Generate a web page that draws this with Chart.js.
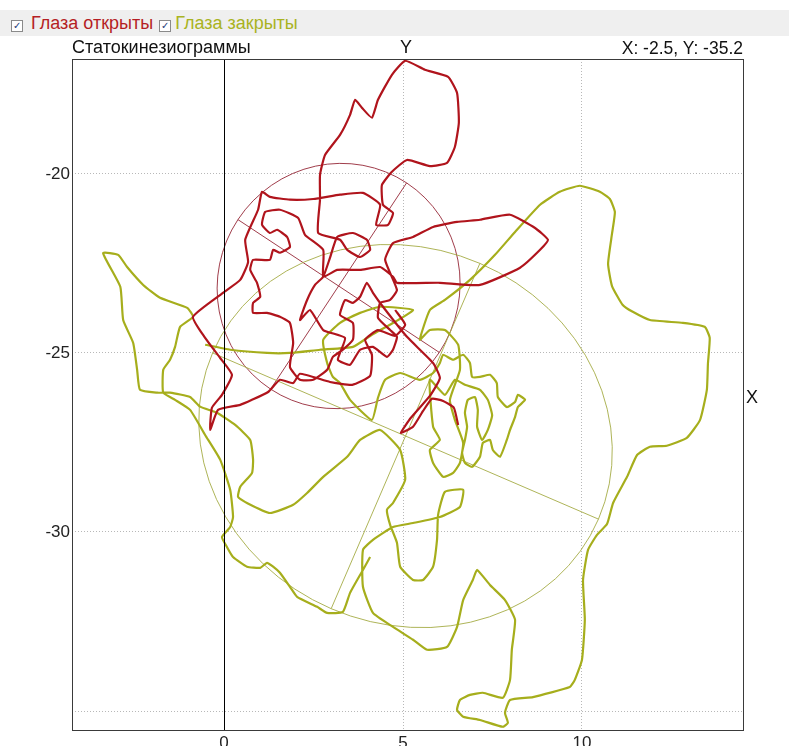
<!DOCTYPE html>
<html>
<head>
<meta charset="utf-8">
<script src="https://cdn.jsdelivr.net/npm/chart.js@4/dist/chart.umd.min.js"></script>
<style>
  body { margin: 0; background: #fff; font-family: "Liberation Sans", Arial, sans-serif; }
  #wrap { position: relative; width: 789px; height: 746px; overflow: hidden; }
  #bar { position: absolute; left: 0; top: 10px; width: 789px; height: 26px; background: #efefef; font-size: 18px; line-height: 26px; }
  .cb { display: inline-block; width: 10px; height: 10px; border: 1px solid #8a8a8a; background: #fff; vertical-align: 0px; margin: 0 8px 0 11px; font-size: 10px; line-height: 10px; text-align: center; color: #1f3b7a; }
  #open { color: #b51e24; }
  #closed { color: #a9b322; }
  .lbl { position: absolute; font-size: 18px; color: #111; white-space: nowrap; }
  canvas { position: absolute; left: 0; top: 0; }
</style>
</head>
<body>
<div id="wrap">
  <canvas id="stab" width="789" height="746"></canvas>
  <div id="bar"><span class="cb">✓</span><span id="open">Глаза открыты</span><span class="cb" style="margin:0 4px 0 6px">✓</span><span id="closed">Глаза закрыты</span></div>
  <div class="lbl" style="left:72px; top:37px;">Статокинезиограммы</div>
  <div class="lbl" style="left:400px; top:37px;">Y</div>
  <div class="lbl" style="right:46px; top:38px; font-size:17.5px;">X: -2.5, Y: -35.2</div>
  <div class="lbl" style="left:746px; top:387px;">X</div>
</div>
<script>
// axis ranges and ticks
var xRange = [-4.25, 14.5];
var yRange = [-35.53, -16.79];
var xTicks = [0, 5, 10];
var yTicks = [-35, -30, -25, -20];
var yTickLabels = ['', '-30', '-25', '-20'];

// centre of pressure, eyes open
var eyesOpen = [
  [6.54,-27.01],[6.42,-26.53],[6.12,-26.34],[5.81,-26.28],[5.56,-26.62],[5.28,-27.06],[4.94,-27.23],
  [5.22,-26.81],[5.75,-26.20],[6.03,-25.70],[5.84,-25.28],[5.11,-24.55],[4.44,-23.71],[4.16,-23.32],
  [3.99,-23.04],[3.80,-23.43],[3.60,-23.60],[3.38,-23.52],[3.24,-23.94],[3.60,-24.16],[3.60,-24.63],
  [3.32,-24.91],[3.04,-25.11],[2.88,-25.47],[2.49,-25.75],[2.12,-25.75],[1.84,-25.39],[1.93,-24.72],
  [1.84,-24.16],[1.56,-23.99],[1.20,-23.88],[0.81,-23.88],[0.81,-23.60],[1.01,-23.43],[0.92,-23.04],
  [0.73,-22.68],[0.81,-22.40],[1.28,-22.40],[1.37,-22.12],[1.56,-22.20],[1.84,-22.04],[1.76,-21.76],
  [1.48,-21.56],[1.28,-21.65],[1.06,-21.42],[1.15,-21.06],[1.56,-21.00],[2.07,-21.23],[2.26,-21.70],
  [2.77,-22.12],[2.77,-22.87],[3.16,-22.68],[3.80,-22.68],[4.36,-22.60],[4.72,-22.87],[4.83,-23.04],
  [6.03,-23.04],[7.15,-23.10],[8.27,-22.62],[8.83,-22.12],[9.05,-21.84],[8.69,-21.51],[7.99,-21.14],
  [7.15,-21.28],[6.51,-21.34],[5.84,-21.48],[5.28,-21.76],[4.72,-21.93],[4.50,-22.40],[4.83,-23.24],
  [4.64,-23.52],[4.36,-23.60],[4.30,-24.02],[4.64,-24.36],[4.83,-24.55],[4.72,-24.91],[4.55,-25.11],
  [4.16,-24.83],[3.80,-24.91],[3.52,-25.33],[3.18,-25.19],[3.38,-24.58],[2.77,-24.36],[2.40,-23.80],
  [2.12,-24.08],[2.32,-23.52],[2.54,-23.10],[2.77,-22.87],[2.96,-22.34],[3.16,-21.76],[3.60,-21.65],
  [3.99,-21.84],[4.08,-22.12],[3.80,-22.32],[3.44,-22.12],[3.24,-21.84],[2.63,-21.65],[2.68,-20.72],
  [2.68,-20.03],[2.82,-19.47],[3.24,-18.91],[3.52,-18.35],[3.66,-17.93],[3.85,-18.15],[4.13,-18.43],
  [4.30,-17.93],[4.69,-17.23],[5.06,-16.84],[5.61,-17.09],[6.26,-17.29],[6.51,-17.74],[6.56,-18.57],
  [6.45,-19.24],[6.23,-19.69],[5.75,-19.78],[5.11,-19.61],[4.69,-19.94],[4.41,-20.31],[4.44,-20.86],
  [4.72,-21.09],[4.58,-21.42],[4.25,-21.42],[4.36,-20.86],[3.88,-20.53],[3.24,-20.58],[2.49,-20.70],
  [1.84,-20.72],[1.28,-20.64],[1.06,-20.50],[0.95,-21.00],[0.59,-21.84],[0.67,-22.46],[0.45,-22.96],
  [-0.03,-23.32],[-0.87,-23.99],[-0.53,-24.58],[-0.11,-25.14],[0.22,-25.61],[-0.06,-26.17],[-0.34,-26.53],
  [-0.39,-27.15],[-0.17,-26.59],[0.45,-26.45],[0.78,-26.31],[1.23,-26.09],[1.56,-25.75],[1.93,-25.84],
  [2.12,-25.58],[2.96,-25.81],[3.58,-25.89],[4.08,-25.64],[4.13,-25.05],[3.94,-24.63],[4.30,-24.36],
  [4.78,-24.52],[5.06,-24.21],[4.78,-23.80]
];

// centre of pressure, eyes closed
var eyesClosed = [
  [-0.53,-24.77],[0.17,-24.91],[1.20,-25.00],[1.84,-25.00],[2.68,-24.91],[3.60,-24.83],[4.13,-24.49],
  [4.78,-24.13],[5.28,-23.80],[4.36,-23.71],[3.80,-23.88],[3.24,-24.16],[2.77,-24.63],[2.88,-25.28],
  [3.04,-25.67],[3.24,-25.84],[3.52,-26.31],[4.13,-26.87],[4.30,-26.25],[4.50,-25.75],[4.92,-25.56],
  [5.47,-25.75],[5.84,-25.56],[6.03,-25.28],[6.12,-25.05],[6.40,-25.19],[6.68,-25.05],[6.87,-25.28],
  [6.93,-25.67],[7.15,-25.67],[7.43,-25.61],[7.62,-25.84],[7.65,-26.23],[7.90,-26.51],[8.13,-26.37],
  [8.21,-26.17],[8.41,-26.31],[8.21,-26.51],[8.13,-26.79],[7.99,-27.15],[7.90,-27.43],[7.71,-27.90],
  [7.51,-27.71],[7.43,-27.43],[7.23,-27.51],[7.15,-27.90],[6.93,-28.18],[6.73,-28.07],[6.65,-27.79],
  [6.73,-27.43],[6.79,-27.06],[6.73,-26.67],[6.81,-26.31],[7.01,-26.23],[7.09,-26.59],[7.07,-27.06],
  [7.21,-27.43],[7.37,-27.15],[7.49,-26.74],[7.37,-26.31],[7.15,-26.03],[6.73,-25.89],[6.45,-25.75],
  [6.17,-26.17],[5.75,-25.75],[5.84,-27.06],[6.03,-27.43],[5.75,-27.71],[5.84,-28.07],[6.12,-28.46],
  [6.40,-28.35],[6.59,-28.07],[6.68,-27.51],[6.45,-26.87],[6.31,-26.31],[6.59,-25.47],[6.54,-24.77],
  [6.17,-24.36],[5.75,-24.36],[5.47,-24.63],[5.75,-23.80],[6.17,-23.52],[6.87,-22.96],[7.57,-22.26],
  [8.13,-21.62],[8.83,-20.86],[9.38,-20.50],[9.94,-20.33],[10.50,-20.50],[10.78,-20.70],[10.92,-21.06],
  [10.84,-21.67],[10.73,-22.51],[10.84,-23.13],[11.14,-23.66],[11.42,-23.85],[11.90,-24.08],[12.82,-24.16],
  [13.43,-24.27],[13.57,-24.58],[13.52,-25.30],[13.49,-26.03],[13.30,-26.87],[12.93,-27.37],[12.37,-27.59],
  [11.90,-27.62],[11.54,-27.85],[11.26,-28.46],[10.87,-29.19],[10.70,-29.78],[10.42,-30.08],[10.17,-30.50],
  [10.03,-31.34],[10.08,-32.45],[10.00,-33.57],[9.80,-34.13],[9.66,-34.33],[8.63,-34.61],[7.99,-34.69],
  [7.85,-35.05],[7.93,-35.33],[7.79,-35.44],[7.15,-35.25],[6.68,-35.16],[6.51,-34.97],[6.59,-34.69],
  [6.87,-34.55],[7.23,-34.49],[7.79,-34.63],[7.99,-34.13],[8.04,-33.29],[8.13,-32.45],[7.85,-31.90],
  [7.43,-31.48],[7.07,-31.06],[6.95,-31.34],[6.68,-31.90],[6.51,-32.65],[6.23,-33.21],[5.67,-33.29],
  [5.28,-33.01],[4.72,-32.65],[4.16,-32.26],[3.88,-31.53],[3.88,-30.50],[4.16,-30.22],[4.72,-29.86],
  [5.28,-29.75],[6.03,-29.58],[6.59,-29.30],[6.68,-28.82],[6.17,-28.88],[5.98,-29.52],[5.95,-30.22],
  [5.84,-30.97],[5.56,-31.34],[5.28,-31.34],[4.92,-30.97],[4.83,-30.30],[4.64,-29.80],[4.55,-29.38],
  [4.72,-29.19],[5.06,-28.54],[4.92,-27.71],[4.36,-27.15],[3.80,-27.43],[3.44,-27.90],[2.77,-28.46],
  [2.32,-28.91],[1.93,-29.24],[1.28,-29.47],[0.64,-29.19],[0.39,-29.02],[0.45,-28.74],[0.78,-28.35],
  [0.81,-27.98],[0.73,-27.43],[0.31,-27.01],[-0.20,-26.67],[-0.67,-26.50],[-0.95,-26.23],[-1.51,-26.11],
  [-1.87,-26.11],[-2.35,-26.03],[-2.43,-25.47],[-2.54,-24.72],[-2.82,-24.08],[-2.90,-23.15],[-3.38,-22.21],
  [-2.96,-22.26],[-2.71,-22.60],[-2.26,-23.10],[-1.79,-23.46],[-1.03,-23.74],[-0.87,-23.99],[-1.23,-24.27],
  [-1.37,-24.83],[-1.51,-25.19],[-1.70,-25.47],[-1.70,-26.11],[-1.37,-26.31],[-0.95,-26.59],[-0.53,-27.29],
  [-0.11,-27.98],[0.17,-28.82],[0.25,-29.58],[0.17,-29.86],[-0.06,-30.14],[0.08,-30.42],[0.25,-30.70],
  [0.64,-30.97],[1.01,-31.00],[1.20,-30.86],[1.37,-30.97],[1.56,-31.14],[1.84,-31.53],[2.04,-31.81],
  [2.60,-32.09],[2.88,-32.26],[3.32,-32.23],[3.52,-31.70],[3.88,-31.06],[4.08,-30.70]
];

// confidence ellipses: centre, semi-axes, rotation of the first axis (degrees)
var ellipseCentres = [[3.20, -23.13], [5.07, -27.32]];
var ellipseAxes = [[3.37, 3.45], [5.87, 5.25]];
var ellipseAngles = [-33.4, -23.3];

var openColor = '#b0141c';
var closedColor = '#a6ae1c';
var ellipseColors = ['rgba(150,40,55,0.9)', 'rgba(165,172,70,0.9)'];

function toPoints(arr) {
  return arr.map(function(p) { return {x: p[0], y: p[1]}; });
}

// frame, the zero axis and the ellipses with their axes
var overlay = {
  id: 'overlay',
  beforeDatasetsDraw: function(chart) {
    var ctx = chart.ctx, xs = chart.scales.x, ys = chart.scales.y, a = chart.chartArea;
    ctx.save();
    ctx.beginPath();
    ctx.rect(a.left, a.top, a.right - a.left, a.bottom - a.top);
    ctx.clip();
    for (var i = 0; i < ellipseCentres.length; i++) {
      var cx = xs.getPixelForValue(ellipseCentres[i][0]);
      var cy = ys.getPixelForValue(ellipseCentres[i][1]);
      var rx = Math.abs(xs.getPixelForValue(ellipseCentres[i][0] + ellipseAxes[i][0]) - cx);
      var ry = Math.abs(ys.getPixelForValue(ellipseCentres[i][1] + ellipseAxes[i][1]) - cy);
      var rot = -ellipseAngles[i] * Math.PI / 180;
      ctx.strokeStyle = ellipseColors[i];
      ctx.lineWidth = 1;
      ctx.beginPath();
      ctx.ellipse(cx, cy, rx, ry, rot, 0, Math.PI * 2);
      ctx.stroke();
      ctx.beginPath();
      ctx.moveTo(cx - rx * Math.cos(rot), cy - rx * Math.sin(rot));
      ctx.lineTo(cx + rx * Math.cos(rot), cy + rx * Math.sin(rot));
      ctx.moveTo(cx + ry * Math.sin(rot), cy - ry * Math.cos(rot));
      ctx.lineTo(cx - ry * Math.sin(rot), cy + ry * Math.cos(rot));
      ctx.stroke();
    }
    ctx.restore();
  },
  afterDraw: function(chart) {
    var ctx = chart.ctx, xs = chart.scales.x, a = chart.chartArea;
    ctx.save();
    var x0 = Math.round(xs.getPixelForValue(0)) + 0.5;
    ctx.strokeStyle = '#000';
    ctx.lineWidth = 1;
    ctx.beginPath();
    ctx.moveTo(x0, a.top);
    ctx.lineTo(x0, a.bottom);
    ctx.stroke();
    ctx.strokeStyle = '#3a3a3a';
    ctx.strokeRect(Math.round(a.left) + 0.5, Math.round(a.top) + 0.5,
      Math.round(a.right - a.left), Math.round(a.bottom - a.top));
    ctx.restore();
  }
};

var ctx = document.getElementById('stab').getContext('2d');
var chart = new Chart(ctx, {
  type: 'scatter',
  data: {
    datasets: [{
      label: 'Глаза открыты',
      data: toPoints(eyesOpen),
      showLine: true,
      borderColor: openColor,
      borderWidth: 2.2,
      pointRadius: 0,
      tension: 0.15
    }, {
      label: 'Глаза закрыты',
      data: toPoints(eyesClosed),
      showLine: true,
      borderColor: closedColor,
      borderWidth: 2.2,
      pointRadius: 0,
      tension: 0.15
    }]
  },
  options: {
    responsive: false,
    animation: false,
    layout: { padding: { left: 0, top: 59, right: 46, bottom: 0 } },
    plugins: { legend: { display: false }, tooltip: { enabled: false } },
    scales: {
      x: {
        type: 'linear',
        min: xRange[0],
        max: xRange[1],
        afterBuildTicks: function(scale) { scale.ticks = xTicks.map(function(v) { return {value: v}; }); },
        afterFit: function(scale) { scale.height = 16; },
        grid: { color: '#b8b8b8', drawTicks: false },
        border: { display: false, dash: [1, 2] },
        ticks: { padding: 3, color: '#222', font: { family: 'Liberation Sans', size: 17 }, maxRotation: 0 }
      },
      y: {
        type: 'linear',
        min: yRange[0],
        max: yRange[1],
        afterBuildTicks: function(scale) { scale.ticks = yTicks.map(function(v) { return {value: v}; }); },
        afterFit: function(scale) { scale.width = 72; },
        grid: { color: '#b8b8b8', drawTicks: false },
        border: { display: false, dash: [1, 2] },
        ticks: {
          padding: 2, color: '#222', font: { family: 'Liberation Sans', size: 17 },
          callback: function(v) { return yTickLabels[yTicks.indexOf(v)]; }
        }
      }
    }
  },
  plugins: [overlay]
});
</script>
</body>
</html>
